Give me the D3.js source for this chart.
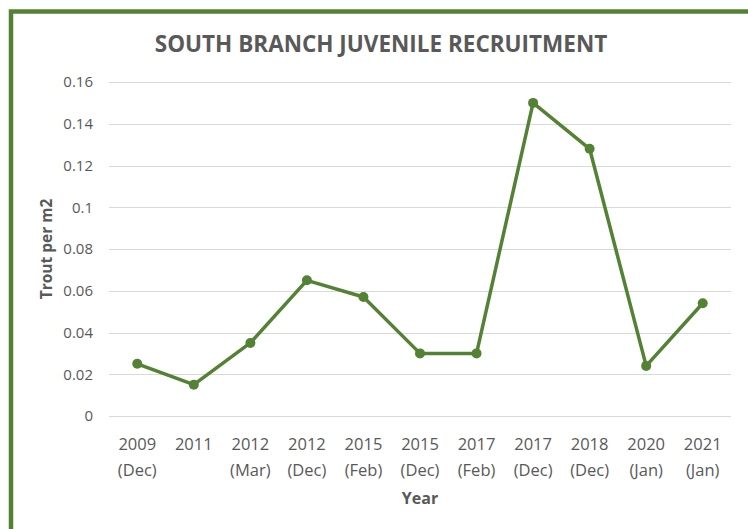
<!DOCTYPE html>
<html>
<head>
<meta charset="utf-8">
<script src="https://cdn.jsdelivr.net/npm/d3@7"></script>
<style>
  body { margin: 0; background: #fff; }
  svg { display: block; font-family: "Open Sans", sans-serif; }
</style>
</head>
<body>
<svg id="chart" width="748" height="529"></svg>
<script>
// data
var years = ["2009", "2011", "2012", "2012", "2015", "2015", "2017", "2017", "2018", "2020", "2021"];
var months = ["(Dec)", "", "(Mar)", "(Dec)", "(Feb)", "(Dec)", "(Feb)", "(Dec)", "(Dec)", "(Jan)", "(Jan)"];
var trout = [0.025, 0.015, 0.035, 0.065, 0.057, 0.030, 0.030, 0.150, 0.128, 0.024, 0.054];
var yTicks = [0, 0.02, 0.04, 0.06, 0.08, 0.1, 0.12, 0.14, 0.16];

var green = "#548235";
var grey = "#595959";

var svg = d3.select("#chart");

// frame, only top and left show inside the window
svg.append("rect")
    .attr("x", 11).attr("y", 11.5)
    .attr("width", 760).attr("height", 560)
    .attr("fill", "none")
    .attr("stroke", green)
    .attr("stroke-width", 4.5);

var plotLeft = 109, plotRight = 731, plotTop = 82, plotBottom = 416;

var x = d3.scalePoint()
    .domain(d3.range(years.length))
    .range([plotLeft, plotRight])
    .padding(0.5);

var y = d3.scaleLinear()
    .domain([0, 0.16])
    .range([plotBottom, plotTop]);

// grid
svg.append("g")
    .selectAll("line")
    .data(yTicks)
    .enter()
    .append("line")
    .attr("x1", plotLeft).attr("x2", plotRight)
    .attr("y1", function (d) { return Math.round(y(d)) + 0.5; })
    .attr("y2", function (d) { return Math.round(y(d)) + 0.5; })
    .attr("stroke", "#d9d9d9")
    .attr("stroke-width", 1);

// y axis labels
var yAxis = svg.append("g")
    .attr("transform", "translate(" + (plotLeft - 16) + ",0)")
    .call(d3.axisLeft(y).tickValues(yTicks).tickSize(0).tickPadding(0)
        .tickFormat(function (d) { return d === 0 ? "0" : String(+d.toFixed(2)); }));
yAxis.select(".domain").remove();
yAxis.selectAll("text")
    .attr("font-family", "'Open Sans', sans-serif")
    .attr("font-size", 15)
    .attr("fill", grey);

// x axis labels, two lines
var xl = svg.append("g")
    .selectAll("text")
    .data(years)
    .enter()
    .append("text")
    .attr("x", function (d, i) { return x(i); })
    .attr("y", 450)
    .attr("text-anchor", "middle")
    .attr("font-size", 16.5)
    .attr("fill", grey);
xl.append("tspan")
    .attr("x", function (d, i) { return x(i); })
    .text(function (d) { return d; });
xl.append("tspan")
    .attr("x", function (d, i) { return x(i); })
    .attr("dy", 26)
    .text(function (d, i) { return months[i]; });

// line
var line = d3.line()
    .x(function (d, i) { return x(i); })
    .y(function (d) { return y(d); });

svg.append("path")
    .datum(trout)
    .attr("d", line)
    .attr("fill", "none")
    .attr("stroke", green)
    .attr("stroke-width", 3.5)
    .attr("stroke-linejoin", "round");

svg.append("g")
    .selectAll("circle")
    .data(trout)
    .enter()
    .append("circle")
    .attr("cx", function (d, i) { return x(i); })
    .attr("cy", function (d) { return y(d); })
    .attr("r", 5)
    .attr("fill", green);

// titles
svg.append("text")
    .attr("x", 381).attr("y", 52)
    .attr("text-anchor", "middle")
    .attr("font-size", 22.5)
    .attr("font-weight", "bold")
    .attr("fill", grey)
    .text("SOUTH BRANCH JUVENILE RECRUITMENT");

svg.append("text")
    .attr("transform", "translate(52,249) rotate(-90)")
    .attr("text-anchor", "middle")
    .attr("font-size", 15.5)
    .attr("font-weight", "bold")
    .attr("fill", grey)
    .text("Trout per m2");

svg.append("text")
    .attr("x", 420).attr("y", 504)
    .attr("text-anchor", "middle")
    .attr("font-size", 16)
    .attr("font-weight", "bold")
    .attr("fill", grey)
    .text("Year");
</script>
</body>
</html>
